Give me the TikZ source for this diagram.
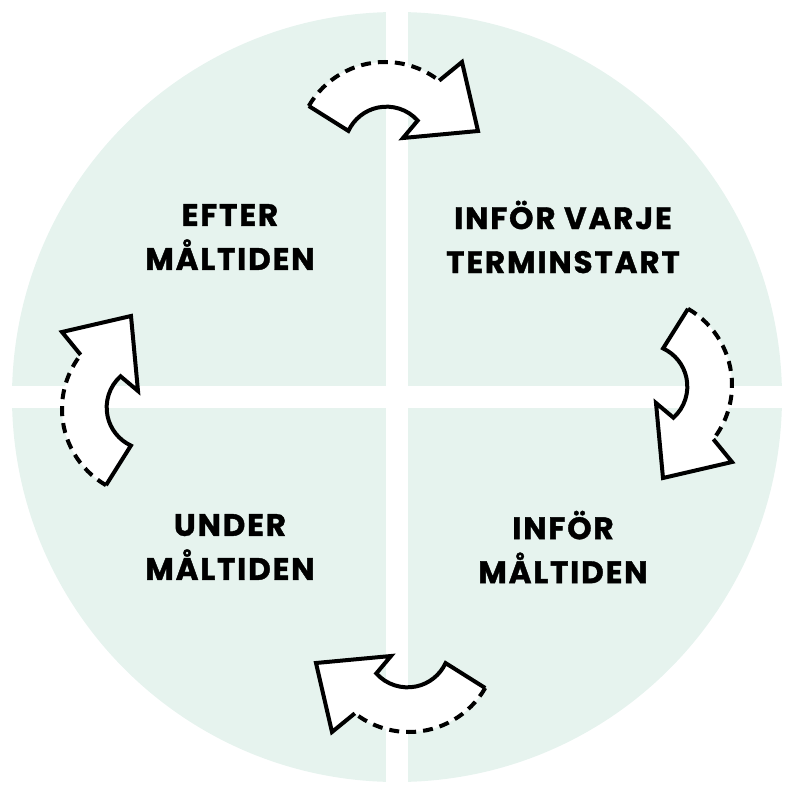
\documentclass[tikz,border=0pt]{standalone}
\usepackage{fontspec}
\setmainfont{Poppins}[BoldFeatures={FakeBold=1.2}, LetterSpace=6]
\definecolor{mint}{HTML}{E6F3EE}
\tikzset{
  phase/.style={font=\bfseries\fontsize{31}{44}\selectfont, align=center, text=black},
  bandline/.style={line width=4pt, line join=miter},
  pics/cyclearrow/.style={code={
    \fill[white] (150:88) arc (150:52:88) -- (77,88) -- (93,19) -- (18,12) -- (42:44) arc (42:155:42) -- cycle;
    \draw[bandline] (52:88) -- (77,88) -- (93,19) -- (18,12) -- (42:44) arc (42:155:42) -- (150:88);
    \draw[bandline, dash pattern=on 10pt off 7pt] (150:88) arc (150:52:88);
  }}
}
\begin{document}
\begin{tikzpicture}[x=1pt, y=1pt]
  \useasboundingbox (-397,-396) rectangle (396,397);
  % quadrants
  \fill[mint] (0,0) circle (385);
  \fill[white] (-11,-400) rectangle (11,400);
  \fill[white] (-400,-11) rectangle (400,11);
  % arrows
  \foreach \ang in {0,-90,-180,-270}
    \pic[rotate=\ang] at ([rotate=\ang]-12,247) {cyclearrow};
  % labels
  \node[phase] (efter) at (-167,160) {EFTER\\MÅLTIDEN};
  \node[phase] (termin) at (166,160) {INFÖR VARJE\\TERMINSTART};
  \node[phase] (under) at (-167,-150) {UNDER\\MÅLTIDEN};
  \node[phase] (infor) at (166,-150) {INFÖR\\MÅLTIDEN};
\end{tikzpicture}
\end{document}
